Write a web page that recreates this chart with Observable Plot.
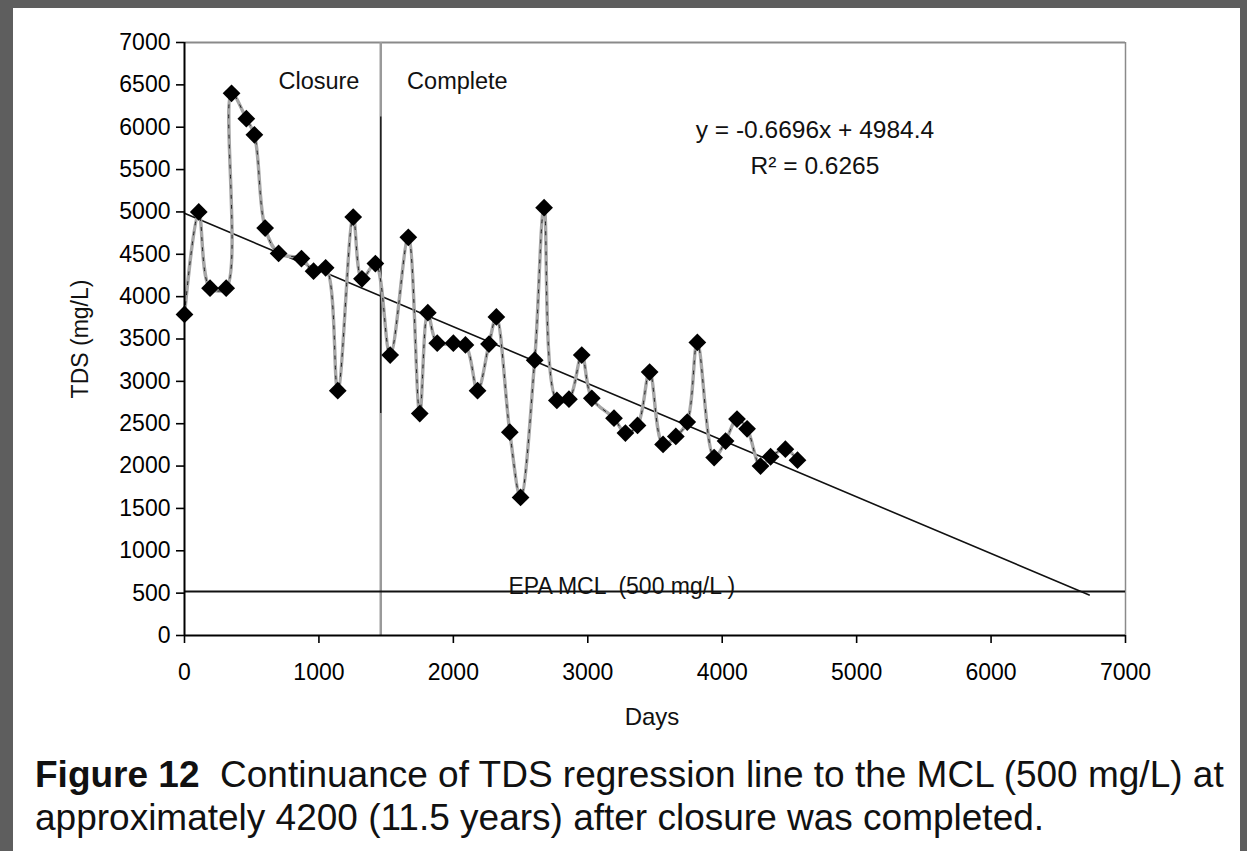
<!DOCTYPE html>
<html>
<head>
<meta charset="utf-8">
<script src="https://cdn.jsdelivr.net/npm/d3@7"></script>
<script src="https://cdn.jsdelivr.net/npm/@observablehq/plot@0.6"></script>
<style>
  html, body { margin: 0; padding: 0; background: #5e5e5e; width: 1247px; height: 851px; overflow: hidden; }
  #panel { position: absolute; left: 13px; top: 8px; width: 1227px; height: 843px; background: #fff; }
  #chart { position: absolute; left: 0; top: 0; }
  #caption { position: absolute; left: 22px; top: 745px; font-family: "Liberation Sans", Arial, sans-serif; font-size: 37px; line-height: 43px; color: #111; white-space: nowrap; }
</style>
</head>
<body>
<div id="panel">
  <div id="chart"></div>
  <div id="caption"><b>Figure 12</b>&nbsp; Continuance of TDS regression line to the MCL (500 mg/L) at<br>approximately 4200 (11.5 years) after closure was completed.</div>
</div>
<script>
// Measured TDS series (days since start, mg/L)
const days = [0,106,190,310,350,460,520,600,700,870,960,1050,1140,1255,1320,1420,1530,1665,1750,1810,1880,2000,2090,2180,2265,2320,2420,2500,2605,2675,2770,2860,2955,3030,3195,3280,3370,3460,3560,3655,3740,3815,3940,4025,4110,4185,4285,4360,4470,4560];
const tds  = [3790,5000,4100,4100,6400,6100,5910,4810,4510,4450,4300,4340,2890,4940,4210,4390,3310,4700,2620,3810,3450,3450,3430,2890,3440,3760,2400,1630,3250,5050,2775,2790,3310,2800,2565,2390,2480,3110,2255,2350,2520,3460,2100,2295,2555,2440,2000,2110,2200,2070];

// Regression line end points (y = -0.6696x + 4984.4)
const regDays = [0, 6730];
const regTDS  = [4984, 478];

// Reference lines
const closureDay = 1460;
const closureDarkSpan = [2620, 6120];
const mclLevel = 520;

// Ticks
const xTicks = [0,1000,2000,3000,4000,5000,6000,7000];
const yTicks = [0,500,1000,1500,2000,2500,3000,3500,4000,4500,5000,5500,6000,6500,7000];

// Annotations
const annLabels = ["Closure", "Complete"];
const annDays = [1000, 2030];
const annTDS = [6540, 6540];
const eqText = "y = -0.6696x + 4984.4\nR\u00B2 = 0.6265";
const eqDay = 4690, eqTDS = 5800;
const mclText = "EPA MCL  (500 mg/L )";
const mclTextDay = 2410;

const series = days.map((d, i) => ({day: d, tds: tds[i]}));
const reg = regDays.map((d, i) => ({day: d, tds: regTDS[i]}));
const ann = annLabels.map((t, i) => ({t, day: annDays[i], tds: annTDS[i]}));

const font = "'Liberation Sans', Arial, sans-serif";

const chart = Plot.plot({
  width: 1227,
  height: 720,
  marginLeft: 171,
  marginRight: 115,
  marginTop: 34,
  marginBottom: 93,
  x: {domain: [0, 7000]},
  y: {domain: [0, 7000]},
  style: {fontFamily: font, fontSize: "23px", background: "transparent", color: "#000", overflow: "visible"},
  marks: [
    // frame top/right (gray)
    Plot.ruleY([7000], {stroke: "#8a8a8a", strokeWidth: 2}),
    Plot.ruleX([7000], {stroke: "#8a8a8a", strokeWidth: 1.5}),
    // closure complete vertical line
    Plot.ruleX([closureDay], {stroke: "#9a9a9a", strokeWidth: 2.5}),
    Plot.ruleX([closureDay], {y1: closureDarkSpan[0], y2: closureDarkSpan[1], stroke: "#111", strokeWidth: 1.3}),
    // EPA MCL line and label
    Plot.text([mclText], {x: mclTextDay, y: mclLevel, text: d => d, textAnchor: "start", dy: 3, lineAnchor: "bottom", fontSize: 23, fill: "#111"}),
    Plot.ruleY([mclLevel], {stroke: "#111", strokeWidth: 2}),
    // regression line
    Plot.line(reg, {x: "day", y: "tds", stroke: "#111", strokeWidth: 1.6}),
    // data line
    Plot.line(series, {x: "day", y: "tds", stroke: "#a6a6a6", strokeWidth: 3.4, curve: "catmull-rom"}),
    Plot.line(series, {x: "day", y: "tds", stroke: "#222", strokeWidth: 1, strokeDasharray: "3,7", curve: "catmull-rom"}),
    Plot.dot(series, {x: "day", y: "tds", symbol: "diamond2", r: 8, fill: "#000", stroke: "none"}),
    // axes
    Plot.axisY({ticks: yTicks, tickSize: 8, tickPadding: 6, tickFormat: d => String(d), label: null, fontSize: 23, strokeWidth: 1.6}),
    Plot.axisX({ticks: xTicks, tickSize: 8, tickPadding: 20, tickFormat: d => String(d), label: null, fontSize: 23, strokeWidth: 1.6}),
    Plot.ruleX([0], {stroke: "#000", strokeWidth: 2}),
    Plot.ruleY([0], {stroke: "#000", strokeWidth: 2}),
    // annotations
    Plot.text(ann, {x: "day", y: "tds", text: "t", fontSize: 23.5, fill: "#111"}),
    Plot.text([eqText], {x: eqDay, y: eqTDS, text: d => d, fontSize: 24.5, lineHeight: 1.5, fill: "#111"}),
    // axis titles
    Plot.text(["TDS (mg/L)"], {frameAnchor: "left", text: d => d, rotate: -90, textAnchor: "middle", dx: -104, fontSize: 23, fill: "#111"}),
    Plot.text(["Days"], {frameAnchor: "bottom", text: d => d, dy: 89, dx: -3, fontSize: 24, fill: "#111"})
  ]
});
document.getElementById("chart").appendChild(chart);
</script>
</body>
</html>
